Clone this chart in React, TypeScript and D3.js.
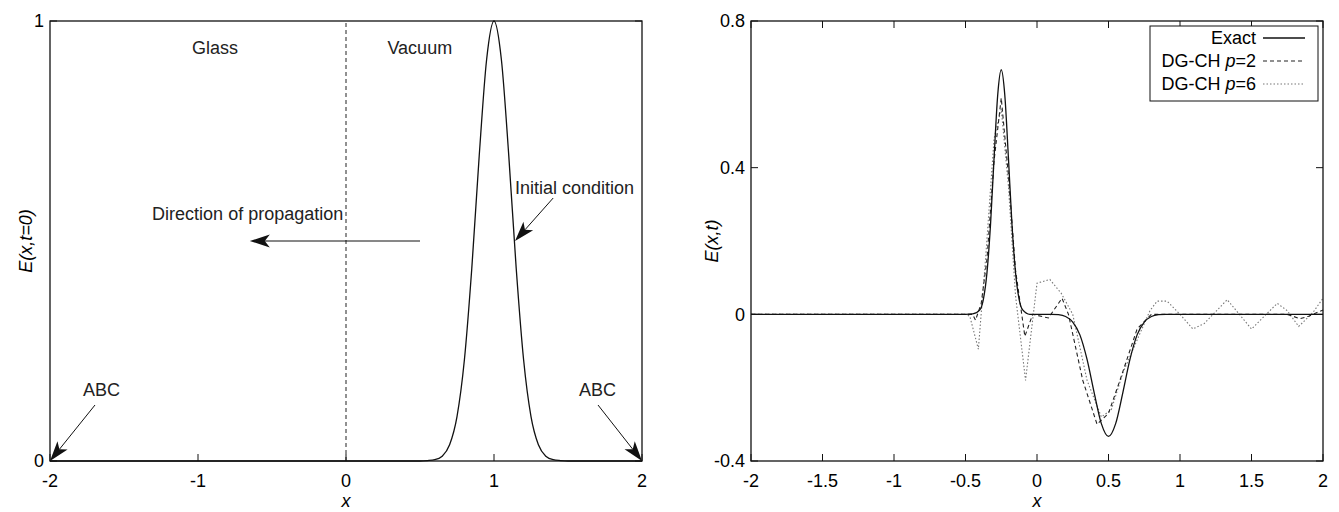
import { useEffect, useRef } from 'react'
import * as d3 from 'd3'

// left panel: initial pulse E(x, t=0)
const pulseX = [-2, 0.5, 0.55, 0.6, 0.65, 0.7, 0.75, 0.8, 0.85, 0.9, 0.95, 1, 1.05, 1.1, 1.15, 1.2, 1.25, 1.3, 1.35, 1.4, 1.45, 1.5, 2]
const pulseY = [0, 0, 0.001, 0.003, 0.011, 0.037, 0.101, 0.23, 0.438, 0.693, 0.912, 1, 0.912, 0.693, 0.438, 0.23, 0.101, 0.037, 0.011, 0.003, 0.001, 0, 0]
const leftXTicks = [-2, -1, 0, 1, 2]
const leftYTicks = [0, 1]

// right panel: E(x,t)
const exactX = [-2, -0.5, -0.45, -0.4, -0.375, -0.35, -0.325, -0.3, -0.275, -0.25, -0.225, -0.2, -0.175, -0.15, -0.125, -0.1, -0.05, 0.1, 0.15, 0.2, 0.25, 0.3, 0.35, 0.4, 0.45, 0.5, 0.55, 0.6, 0.65, 0.7, 0.75, 0.8, 0.85, 0.9, 2]
const exactY = [0, 0, 0.001, 0.012, 0.041, 0.113, 0.245, 0.428, 0.597, 0.667, 0.597, 0.428, 0.245, 0.113, 0.041, 0.012, 0, 0, -0.001, -0.006, -0.021, -0.056, -0.123, -0.214, -0.298, -0.333, -0.298, -0.214, -0.123, -0.056, -0.021, -0.006, -0.001, 0, 0]
const p2X = [-2, -0.45, -0.43, -0.39, -0.35, -0.3, -0.25, -0.2, -0.15, -0.085, -0.03, 0.08, 0.175, 0.22, 0.32, 0.42, 0.5, 0.58, 0.7, 0.8, 1.0, 1.5, 1.75, 1.84, 1.9, 2]
const p2Y = [0, 0, -0.016, 0.03, 0.15, 0.42, 0.59, 0.38, 0.12, -0.06, 0, -0.01, 0.044, 0, -0.18, -0.3, -0.27, -0.18, -0.04, 0, 0, 0, 0, -0.012, -0.005, 0.012]
const p6X = [-2, -0.5, -0.47, -0.41, -0.36, -0.3, -0.25, -0.2, -0.15, -0.08, 0, 0.09, 0.17, 0.25, 0.35, 0.45, 0.52, 0.6, 0.7, 0.79, 0.84, 0.91, 1.0, 1.09, 1.17, 1.33, 1.5, 1.68, 1.75, 1.83, 1.93, 2]
const p6Y = [0, 0, -0.005, -0.095, 0.15, 0.48, 0.56, 0.35, 0.05, -0.18, 0.085, 0.095, 0.057, 0, -0.18, -0.28, -0.26, -0.16, -0.07, 0.01, 0.036, 0.036, 0, -0.04, -0.025, 0.04, -0.04, 0.03, 0.01, -0.033, 0.005, 0.044]
const rightXTicks = [-2, -1.5, -1, -0.5, 0, 0.5, 1, 1.5, 2]
const rightYTicks = [-0.4, 0, 0.4, 0.8]

const FONT = 'Liberation Sans, Arial, Helvetica, sans-serif'
const FS = 18

function drawArrow(g: any, x1: number, y1: number, x2: number, y2: number) {
  const a = Math.atan2(y2 - y1, x2 - x1)
  const len = 20
  const hw = 6.5
  const notch = 5
  const bx = x2 - len * Math.cos(a)
  const by = y2 - len * Math.sin(a)
  const nx = x2 - (len - notch) * Math.cos(a)
  const ny = y2 - (len - notch) * Math.sin(a)
  const px = -Math.sin(a) * hw
  const py = Math.cos(a) * hw
  g.append('line')
    .attr('x1', x1).attr('y1', y1).attr('x2', nx).attr('y2', ny)
    .attr('stroke', '#111').attr('stroke-width', 1)
  g.append('path')
    .attr('d', `M${x2},${y2}L${bx + px},${by + py}L${nx},${ny}L${bx - px},${by - py}Z`)
    .attr('fill', '#111')
}

function frame(g: any, x: any, y: any, xTicks: number[], yTicks: number[], mirrorX: boolean) {
  const [x0, x1] = x.range()
  const [y0, y1] = y.range()
  const tk = 7
  xTicks.forEach((t) => {
    g.append('line').attr('x1', x(t)).attr('x2', x(t)).attr('y1', y0).attr('y2', y0 - tk)
      .attr('stroke', '#111').attr('stroke-width', 1)
    if (mirrorX)
      g.append('line').attr('x1', x(t)).attr('x2', x(t)).attr('y1', y1).attr('y2', y1 + tk)
        .attr('stroke', '#111').attr('stroke-width', 1)
    g.append('text').attr('x', x(t)).attr('y', y0 + 26).attr('text-anchor', 'middle')
      .style('font-family', FONT).style('font-size', FS + 'px').text(String(t))
  })
  yTicks.forEach((t) => {
    g.append('line').attr('x1', x0).attr('x2', x0 + tk).attr('y1', y(t)).attr('y2', y(t))
      .attr('stroke', '#111').attr('stroke-width', 1)
    g.append('line').attr('x1', x1).attr('x2', x1 - tk).attr('y1', y(t)).attr('y2', y(t))
      .attr('stroke', '#111').attr('stroke-width', 1)
    g.append('text').attr('x', x0 - 6).attr('y', y(t)).attr('dy', '0.36em').attr('text-anchor', 'end')
      .style('font-family', FONT).style('font-size', FS + 'px').text(String(t))
  })
  g.append('rect').attr('x', x0).attr('y', y1).attr('width', x1 - x0).attr('height', y0 - y1)
    .attr('fill', 'none').attr('stroke', '#111').attr('stroke-width', 1.3)
}

function App() {
  const svgRef = useRef<SVGSVGElement | null>(null)

  useEffect(() => {
    if (!svgRef.current) return
    const svg = d3.select(svgRef.current)
    svg.selectAll('*').remove()

    // ---------- left panel ----------
    const xl = d3.scaleLinear().domain([-2, 2]).range([50, 642])
    const yl = d3.scaleLinear().domain([0, 1]).range([461, 21])
    const gl = svg.append('g')

    gl.append('line').attr('x1', xl(0)).attr('x2', xl(0)).attr('y1', yl(0)).attr('y2', yl(1))
      .attr('stroke', '#222').attr('stroke-width', 1).attr('stroke-dasharray', '4,3')

    const lineL = d3.line<number>().x((_, i) => xl(pulseX[i])).y((d) => yl(d)).curve(d3.curveMonotoneX)
    gl.append('path').datum(pulseY).attr('d', lineL).attr('fill', 'none')
      .attr('stroke', '#111').attr('stroke-width', 1.3)

    frame(gl, xl, yl, leftXTicks, leftYTicks, false)

    const txt = (g: any, x: number, y: number, s: string, anchor = 'start') =>
      g.append('text').attr('x', x).attr('y', y).attr('text-anchor', anchor)
        .style('font-family', FONT).style('font-size', FS + 'px').attr('fill', '#222').text(s)

    txt(gl, xl(-1.04), 54, 'Glass')
    txt(gl, xl(0.28), 54, 'Vacuum')
    txt(gl, xl(1.142), 194, 'Initial condition')
    drawArrow(gl, xl(1.4), 198, xl(1.142), yl(0.5))
    txt(gl, xl(-1.31), 220, 'Direction of propagation')
    drawArrow(gl, xl(0.5), yl(0.5), xl(-0.65), yl(0.5))
    txt(gl, 83, 396, 'ABC')
    drawArrow(gl, 95, 405, xl(-2), yl(0))
    txt(gl, 579, 396, 'ABC')
    drawArrow(gl, 598, 405, xl(2), yl(0))

    gl.append('text').attr('x', xl(0)).attr('y', 507).attr('text-anchor', 'middle')
      .style('font-family', FONT).style('font-size', FS + 'px').style('font-style', 'italic').text('x')
    gl.append('text').attr('transform', `translate(32,${(yl(0) + yl(1)) / 2}) rotate(-90)`)
      .attr('text-anchor', 'middle').style('font-family', FONT).style('font-size', FS + 'px')
      .style('font-style', 'italic').text('E(x,t=0)')

    // ---------- right panel ----------
    const xr = d3.scaleLinear().domain([-2, 2]).range([751, 1323])
    const yr = d3.scaleLinear().domain([-0.4, 0.8]).range([461, 21])
    const gr = svg.append('g')

    const mk = (xs: number[], curve: any) =>
      d3.line<number>().x((_, i) => xr(xs[i])).y((d) => yr(d)).curve(curve)

    gr.append('path').datum(p6Y).attr('d', mk(p6X, d3.curveLinear)).attr('fill', 'none')
      .attr('stroke', '#777').attr('stroke-width', 1.1).attr('stroke-dasharray', '1.5,2')
    gr.append('path').datum(p2Y).attr('d', mk(p2X, d3.curveLinear)).attr('fill', 'none')
      .attr('stroke', '#222').attr('stroke-width', 1.1).attr('stroke-dasharray', '4,3')
    gr.append('path').datum(exactY).attr('d', mk(exactX, d3.curveMonotoneX)).attr('fill', 'none')
      .attr('stroke', '#111').attr('stroke-width', 1.3)

    frame(gr, xr, yr, rightXTicks, rightYTicks, true)

    // legend
    const lx0 = 1150
    const lx1 = 1318
    const ly0 = 26
    const rowH = 23
    const legendItems = [
      { pre: 'Exact', p: '', post: '', dash: null, color: '#111', w: 1.3 },
      { pre: 'DG-CH ', p: 'p', post: '=2', dash: '4,3', color: '#222', w: 1.1 },
      { pre: 'DG-CH ', p: 'p', post: '=6', dash: '1.5,2', color: '#777', w: 1.1 },
    ]
    gr.append('rect').attr('x', lx0).attr('y', ly0).attr('width', lx1 - lx0)
      .attr('height', rowH * legendItems.length + 6)
      .attr('fill', '#fff').attr('stroke', '#111').attr('stroke-width', 1)
    legendItems.forEach((d, i) => {
      const yy = ly0 + 12 + i * rowH
      const t = gr.append('text').attr('x', 1256).attr('y', yy).attr('dy', '0.36em')
        .attr('text-anchor', 'end').style('font-family', FONT).style('font-size', FS + 'px')
      t.append('tspan').text(d.pre)
      if (d.p) {
        t.append('tspan').style('font-style', 'italic').text(d.p)
        t.append('tspan').text(d.post)
      }
      const ln = gr.append('line').attr('x1', 1263).attr('x2', 1305).attr('y1', yy).attr('y2', yy)
        .attr('stroke', d.color).attr('stroke-width', d.w)
      if (d.dash) ln.attr('stroke-dasharray', d.dash)
    })

    gr.append('text').attr('x', xr(0)).attr('y', 507).attr('text-anchor', 'middle')
      .style('font-family', FONT).style('font-size', FS + 'px').style('font-style', 'italic').text('x')
    gr.append('text').attr('transform', `translate(718,${(yr(-0.4) + yr(0.8)) / 2}) rotate(-90)`)
      .attr('text-anchor', 'middle').style('font-family', FONT).style('font-size', FS + 'px')
      .style('font-style', 'italic').text('E(x,t)')
  }, [])

  return (
    <svg ref={svgRef} width={1339} height={512} style={{ position: 'absolute', left: 0, top: 0, background: '#fff' }} />
  )
}

export default App
